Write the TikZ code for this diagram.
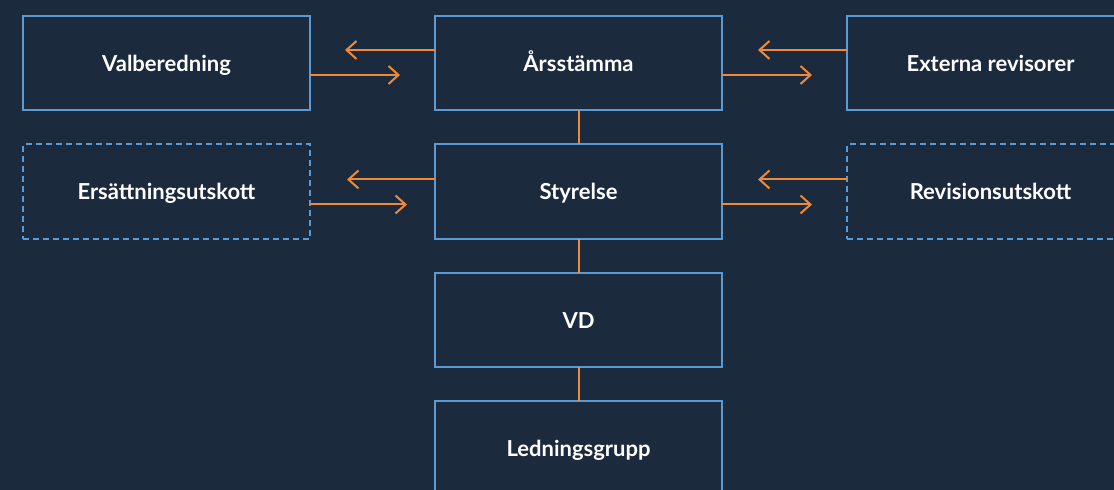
\documentclass[tikz,border=0pt]{standalone}
\usepackage{fontspec}
\setmainfont{Lato}
\usepackage{tikz}
\usetikzlibrary{arrows.meta,chains,positioning}
\definecolor{bgnavy}{HTML}{1C2A3E}
\definecolor{boxblue}{HTML}{5B9BD5}
\definecolor{lineorange}{HTML}{ED8B3A}

\begin{document}
\begin{tikzpicture}[x=0.5pt, y=-0.5pt,
node distance=17pt and 62.5pt,
 start chain = M going below,
    B/.style = {rectangle, draw=boxblue, line width=1pt,% solid boxes
                minimum width=143.5pt, minimum height=47.25pt,
                outer sep=0pt, inner sep=0pt, text=white,
                text height=8.5pt, text depth=0pt,
                font=\bfseries\fontsize{11}{13}\selectfont},
    D/.style = {B, dash pattern=on 3pt off 2pt},% dashed boxes (committees)
    A/.style = {-{Straight Barb[length=5pt,width=9pt]},
                draw=lineorange, line width=1pt},
    L/.style = {draw=lineorange, line width=1pt},
                        ]
\fill[bgnavy] (0,0) rectangle (1114,490);
\useasboundingbox (0,0) rectangle (1114,490);
% middle column
\node[B, on chain] at (578.5,63) {Årsstämma};
\foreach \i in {Styrelse,VD,Ledningsgrupp}% <-- content of nodes
    \node[B, on chain] {\i};
% side boxes
\node[B, left=of M-1]  (V) {Valberedning};
\node[B, right=of M-1] (E) {Externa revisorer};
\node[D, left=of M-2]  (S) {Ersättningsutskott};
\node[D, right=of M-2] (R) {Revisionsutskott};
% links
\draw[L] (M-1) -- (M-2);
\draw[L] (M-2) -- (M-3);
\draw[L] (M-3) -- (M-4);
\draw[A] ([yshift=6.5pt]M-1.west) -- ++(-90,0);
\draw[A] ([yshift=-6pt]V.east) -- ++(90,0);
\draw[A] ([yshift=6.5pt]E.west) -- ++(-89,0);
\draw[A] ([yshift=-6pt]M-1.east) -- ++(90,0);
\draw[A] ([yshift=6pt]M-2.west) -- ++(-88,0);
\draw[A] ([yshift=-6.5pt]S.east) -- ++(97,0);
\draw[A] ([yshift=6pt]R.west) -- ++(-89,0);
\draw[A] ([yshift=-6.5pt]M-2.east) -- ++(90,0);
\end{tikzpicture}
\end{document}
